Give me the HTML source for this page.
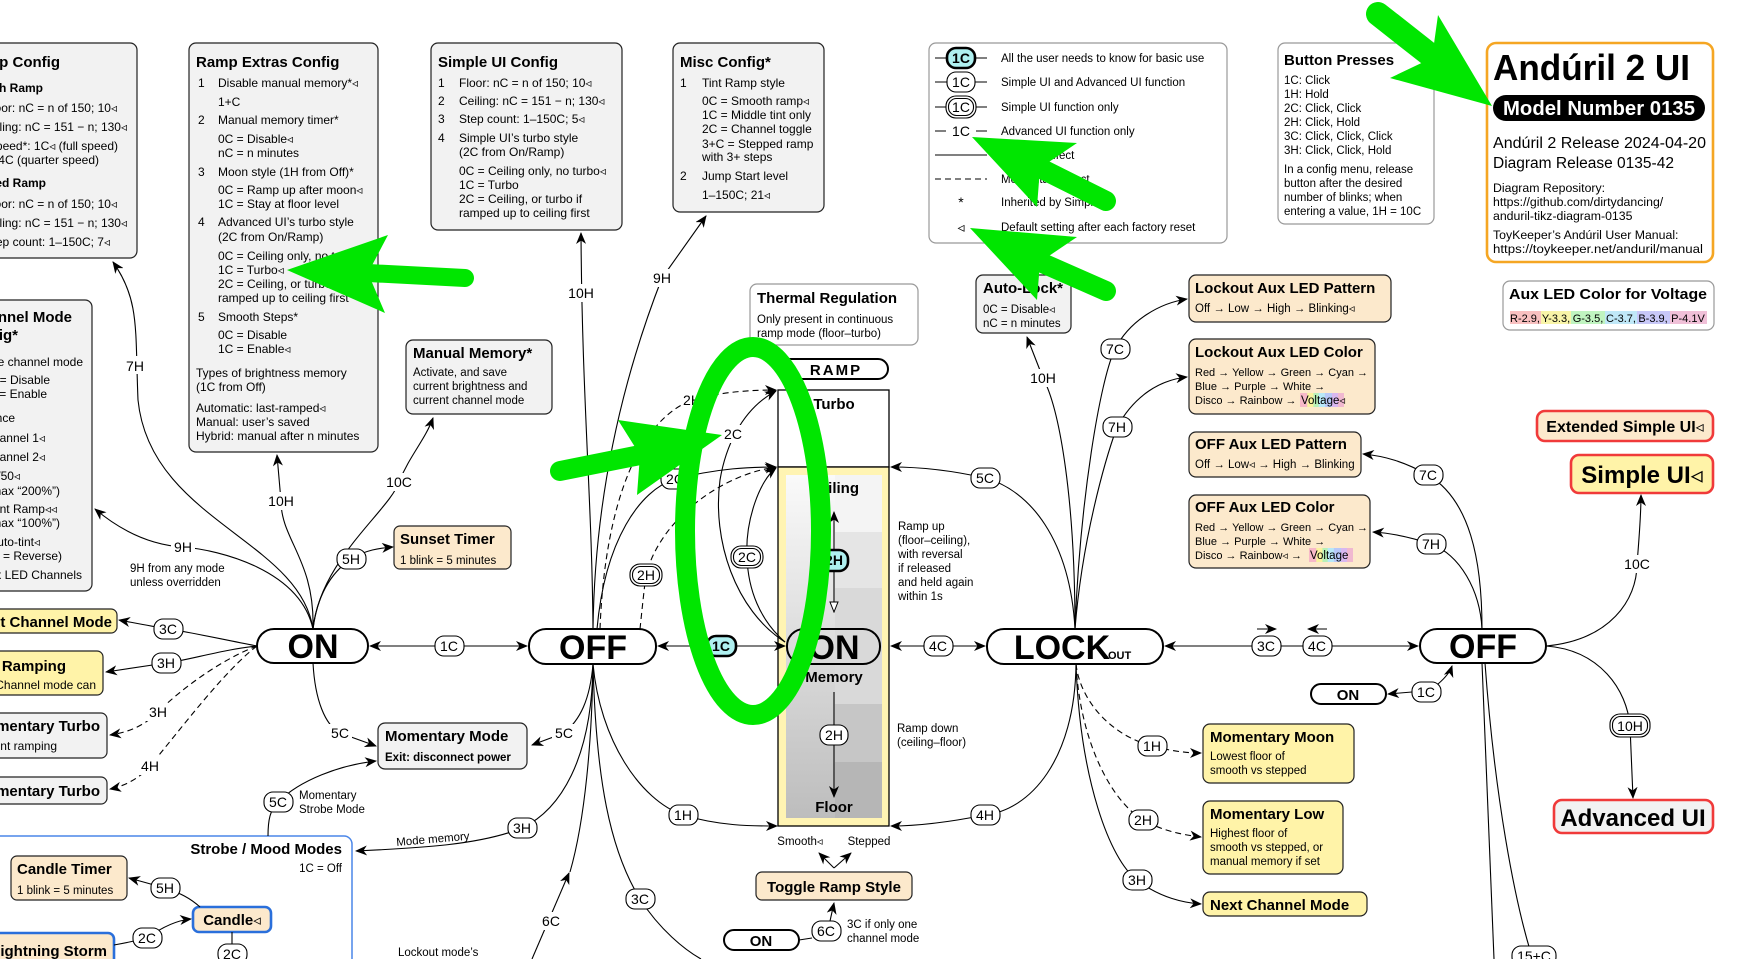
<!DOCTYPE html>
<html><head><meta charset="utf-8">
<style>
html,body{margin:0;padding:0;background:#fff;}
svg{display:block}
svg text{font-family:"Liberation Sans","DejaVu Sans",sans-serif;fill:#000}
.s{font-size:11.5px}
.c{font-size:12px}
.h{font-size:15px;font-weight:bold}
.lb{font-size:14px;text-anchor:middle}
.ln{fill:none;stroke:#000;stroke-width:1.1}
.d{stroke-dasharray:6 4}
.cfg{fill:#f2f2f2;stroke:#222;stroke-width:1.2}
.pe{fill:#fce9cc;stroke:#222;stroke-width:1.2}
.ye{fill:#fff3a8;stroke:#222;stroke-width:1.2}
.wb{fill:#fff;stroke:#999;stroke-width:1.2}
.pl{fill:#fff;stroke:#000;stroke-width:1.1}
.st{fill:#fff;stroke:#000;stroke-width:2}
.big{font-size:34px;font-weight:bold;text-anchor:middle}
.g{fill:#00e600}
.gs{stroke:#00e600;fill:none;stroke-linecap:round}
</style></head>
<body>
<svg width="1761" height="959" viewBox="0 0 1761 959" xmlns="http://www.w3.org/2000/svg">
<defs>
<marker id="a" viewBox="0 0 12 10" refX="11" refY="5" markerWidth="12" markerHeight="10" markerUnits="userSpaceOnUse" orient="auto-start-reverse"><path d="M0,0 L12,5 L0,10 L3.5,5 z" fill="#000"/></marker>
<marker id="o" viewBox="0 0 12 10" refX="11" refY="5" markerWidth="12" markerHeight="10" markerUnits="userSpaceOnUse" orient="auto"><path d="M1,1 L11,5 L1,9 z" fill="#fff" stroke="#000" stroke-width="1"/></marker>
<linearGradient id="rg" x1="0" y1="0" x2="0" y2="1"><stop offset="0" stop-color="#fafafa"/><stop offset="1" stop-color="#bdbdbd"/></linearGradient>
<linearGradient id="vg" x1="0" y1="0" x2="1" y2="0">
<stop offset="0" stop-color="#f7b8c8"/><stop offset=".16" stop-color="#f7b8c8"/><stop offset=".17" stop-color="#f9f3a0"/><stop offset=".3" stop-color="#f9f3a0"/><stop offset=".31" stop-color="#b8f0b8"/><stop offset=".42" stop-color="#b8f0b8"/><stop offset=".43" stop-color="#b8e8f8"/><stop offset=".56" stop-color="#b8e8f8"/><stop offset=".57" stop-color="#b8c8f8"/><stop offset=".72" stop-color="#b8c8f8"/><stop offset=".73" stop-color="#d8b8f0"/><stop offset=".86" stop-color="#d8b8f0"/><stop offset=".87" stop-color="#f0b8d0"/><stop offset="1" stop-color="#f0b8d0"/></linearGradient>
</defs>

<!-- ===== Config boxes top ===== -->
<rect class="cfg" x="-10" y="43" width="147" height="215" rx="7"/>
<text class="h" x="60" y="67" text-anchor="end" font-size="16">Ramp Config</text>
<g class="c" text-anchor="end">
<text x="43" y="92" font-weight="bold">Smooth Ramp</text>
<text x="117" y="112">Floor: nC = n of 150; 10◃</text>
<text x="127" y="131">Ceiling: nC = 151 − n; 130◃</text>
<text x="118" y="150">Speed*: 1C◃ (full speed)</text>
<text x="99" y="164">4C (quarter speed)</text>
<text x="46" y="187" font-weight="bold">Stepped Ramp</text>
<text x="117" y="208">Floor: nC = n of 150; 10◃</text>
<text x="127" y="227">Ceiling: nC = 151 − n; 130◃</text>
<text x="110" y="246">Step count: 1–150C; 7◃</text>
</g>

<rect class="cfg" x="189" y="43" width="189" height="409" rx="7"/>
<text class="h" x="196" y="67" font-size="16">Ramp Extras Config</text>
<g class="c">
<text x="198" y="87">1</text><text x="218" y="87">Disable manual memory*◃</text>
<text x="218" y="106">1+C</text>
<text x="198" y="124">2</text><text x="218" y="124">Manual memory timer*</text>
<text x="218" y="143">0C = Disable◃</text>
<text x="218" y="157">nC = n minutes</text>
<text x="198" y="176">3</text><text x="218" y="176">Moon style (1H from Off)*</text>
<text x="218" y="194">0C = Ramp up after moon◃</text>
<text x="218" y="208">1C = Stay at floor level</text>
<text x="198" y="226">4</text><text x="218" y="226">Advanced UI’s turbo style</text>
<text x="218" y="241">(2C from On/Ramp)</text>
<text x="218" y="260">0C = Ceiling only, no turbo</text>
<text x="218" y="274">1C = Turbo◃</text>
<text x="218" y="288">2C = Ceiling, or turbo if</text>
<text x="218" y="302">ramped up to ceiling first</text>
<text x="198" y="321">5</text><text x="218" y="321">Smooth Steps*</text>
<text x="218" y="339">0C = Disable</text>
<text x="218" y="353">1C = Enable◃</text>
<text x="196" y="377">Types of brightness memory</text>
<text x="196" y="391">(1C from Off)</text>
<text x="196" y="412">Automatic: last-ramped◃</text>
<text x="196" y="426">Manual: user’s saved</text>
<text x="196" y="440">Hybrid: manual after n minutes</text>
</g>

<rect class="cfg" x="431" y="43" width="191" height="187" rx="7"/>
<text class="h" x="438" y="67" font-size="16">Simple UI Config</text>
<g class="c">
<text x="438" y="87">1</text><text x="459" y="87">Floor: nC = n of 150; 10◃</text>
<text x="438" y="105">2</text><text x="459" y="105">Ceiling: nC = 151 − n; 130◃</text>
<text x="438" y="123">3</text><text x="459" y="123">Step count: 1–150C; 5◃</text>
<text x="438" y="142">4</text><text x="459" y="142">Simple UI’s turbo style</text>
<text x="459" y="156">(2C from On/Ramp)</text>
<text x="459" y="175">0C = Ceiling only, no turbo◃</text>
<text x="459" y="189">1C = Turbo</text>
<text x="459" y="203">2C = Ceiling, or turbo if</text>
<text x="459" y="217">ramped up to ceiling first</text>
</g>

<rect class="cfg" x="673" y="43" width="151" height="169" rx="7"/>
<text class="h" x="680" y="67" font-size="16">Misc Config*</text>
<g class="c">
<text x="680" y="87">1</text><text x="702" y="87">Tint Ramp style</text>
<text x="702" y="105">0C = Smooth ramp◃</text>
<text x="702" y="119">1C = Middle tint only</text>
<text x="702" y="133">2C = Channel toggle</text>
<text x="702" y="148">3+C = Stepped ramp</text>
<text x="702" y="161">with 3+ steps</text>
<text x="680" y="180">2</text><text x="702" y="180">Jump Start level</text>
<text x="702" y="199">1–150C; 21◃</text>
</g>

<!-- Legend -->
<rect class="wb" x="929" y="43" width="298" height="200" rx="7"/>
<g class="ln"><path d="M935,58H987M935,82H987M935,107H987M935,155H987"/><path d="M935,131H946M976,131H987"/><path class="d" d="M935,179H987"/></g>
<rect x="947" y="48" width="28" height="20" rx="9" fill="#aff0f0" stroke="#000" stroke-width="2.6"/>
<text class="lb" x="961" y="63" font-weight="bold" font-size="13">1C</text>
<rect class="pl" x="947" y="72" width="28" height="20" rx="9"/><text class="lb" x="961" y="87">1C</text>
<rect class="pl" x="946" y="96" width="30" height="22" rx="10"/><rect class="pl" x="948.5" y="98.5" width="25" height="17" rx="8"/><text class="lb" x="961" y="112">1C</text>
<text class="lb" x="961" y="136">1C</text>
<text class="lb" x="961" y="207">*</text>
<text class="lb" x="961" y="232">◃</text>
<g class="s">
<text x="1001" y="62">All the user needs to know for basic use</text>
<text x="1001" y="86">Simple UI and Advanced UI function</text>
<text x="1001" y="111">Simple UI function only</text>
<text x="1001" y="135">Advanced UI function only</text>
<text x="1001" y="159">Obvious effect</text>
<text x="1001" y="183">Momentary effect</text>
<text x="1001" y="206">Inherited by Simple UI</text>
<text x="1001" y="231">Default setting after each factory reset</text>
</g>

<!-- Button presses -->
<rect class="wb" x="1278" y="43" width="156" height="181" rx="7"/>
<text class="h" x="1284" y="65" font-size="16">Button Presses</text>
<g class="s">
<text x="1284" y="84">1C: Click</text>
<text x="1284" y="98">1H: Hold</text>
<text x="1284" y="112">2C: Click, Click</text>
<text x="1284" y="126">2H: Click, Hold</text>
<text x="1284" y="140">3C: Click, Click, Click</text>
<text x="1284" y="154">3H: Click, Click, Hold</text>
<text x="1284" y="173">In a config menu, release</text>
<text x="1284" y="187">button after the desired</text>
<text x="1284" y="201">number of blinks; when</text>
<text x="1284" y="215">entering a value, 1H = 10C</text>
</g>

<!-- Anduril box -->
<rect x="1487" y="43" width="226" height="219" rx="9" fill="#fff" stroke="#f5a623" stroke-width="2.6"/>
<text x="1493" y="80" font-size="36" font-weight="bold" textLength="197" lengthAdjust="spacingAndGlyphs">Andúril 2 UI</text>
<rect x="1493" y="95" width="212" height="26" rx="13" fill="#000"/>
<text x="1599" y="115" font-size="20" font-weight="bold" text-anchor="middle" style="fill:#fff" textLength="192" lengthAdjust="spacingAndGlyphs">Model Number 0135</text>
<text x="1493" y="148" font-size="15.5" textLength="213" lengthAdjust="spacingAndGlyphs">Andúril 2 Release 2024-04-20</text>
<text x="1493" y="168" font-size="15.5">Diagram Release 0135-42</text>
<g font-size="12.3">
<text x="1493" y="192">Diagram Repository:</text>
<text x="1493" y="206">https://github.com/dirtydancing/</text>
<text x="1493" y="220">anduril-tikz-diagram-0135</text>
<text x="1493" y="239">ToyKeeper’s Andúril User Manual:</text>
<text x="1493" y="253" textLength="210" lengthAdjust="spacingAndGlyphs">https://toykeeper.net/anduril/manual</text>
</g>

<!-- Aux LED voltage -->
<rect class="wb" x="1503" y="281" width="211" height="49" rx="7"/>
<text class="h" x="1509" y="299" font-size="16" textLength="198" lengthAdjust="spacingAndGlyphs">Aux LED Color for Voltage</text>
<rect x="1510" y="311" width="31" height="13" fill="#f8c0c0"/><rect x="1541" y="311" width="30" height="13" fill="#f8f4a8"/><rect x="1571" y="311" width="34" height="13" fill="#c0f4c0"/><rect x="1605" y="311" width="32" height="13" fill="#c0e8f8"/><rect x="1637" y="311" width="33" height="13" fill="#c8c8f8"/><rect x="1670" y="311" width="37" height="13" fill="#f0c0d8"/>
<g font-size="11" text-anchor="middle"><text x="1525" y="322">R-2.9,</text><text x="1556" y="322">Y-3.3,</text><text x="1588" y="322">G-3.5,</text><text x="1621" y="322">C-3.7,</text><text x="1653" y="322">B-3.9,</text><text x="1688" y="322">P-4.1V</text></g>

<!-- Simple / Advanced UI -->
<rect x="1537" y="411" width="176" height="30" rx="8" fill="#fce9cc" stroke="#f03a3a" stroke-width="2.6"/>
<text x="1625" y="432" font-size="16" font-weight="bold" text-anchor="middle">Extended Simple UI◃</text>
<rect x="1571" y="455" width="142" height="38" rx="8" fill="#fff3a8" stroke="#f03a3a" stroke-width="2.6"/>
<text x="1642" y="483" font-size="24" font-weight="bold" text-anchor="middle">Simple UI◃</text>
<rect x="1554" y="800" width="159" height="33" rx="8" fill="#f2f2f2" stroke="#f03a3a" stroke-width="2.6"/>
<text x="1633" y="826" font-size="24" font-weight="bold" text-anchor="middle">Advanced UI</text>

<!-- Left side boxes -->
<rect class="cfg" x="-10" y="300" width="102" height="291" rx="7"/>
<g text-anchor="end">
<text class="h" x="72" y="322" font-size="16">Channel Mode</text>
<text class="h" x="18" y="340" font-size="16">Config*</text>
<g class="c">
<text x="83" y="366">1  Manage channel mode</text>
<text x="50" y="384">0C = Disable</text>
<text x="47" y="398">1C = Enable</text>
<text x="15" y="422">Sequence</text>
<text x="45" y="442">Channel 1◃</text>
<text x="45" y="461">Channel 2◃</text>
<text x="20" y="480">/50◃</text>
<text x="60" y="495">(max “200%”)</text>
<text x="57" y="513">Tint Ramp◃◃</text>
<text x="60" y="527">(max “100%”)</text>
<text x="40" y="546">Auto-tint◃</text>
<text x="62" y="560">(1 = Reverse)</text>
<text x="82" y="579">Aux LED Channels</text>
</g></g>

<rect class="ye" x="-10" y="609" width="127" height="24" rx="6"/>
<text class="h" x="112" y="627" text-anchor="end" font-size="16">Next Channel Mode</text>
<rect class="ye" x="-10" y="651" width="113" height="44" rx="6"/>
<text class="h" x="66" y="671" text-anchor="end" font-size="16">Ramping</text>
<text class="c" x="96" y="689" text-anchor="end">Channel mode can</text>
<rect class="cfg" x="-10" y="713" width="117" height="45" rx="6"/>
<text class="h" x="100" y="731" text-anchor="end" font-size="16">Momentary Turbo</text>
<text class="c" x="57" y="750" text-anchor="end">Tint ramping</text>
<rect class="cfg" x="-10" y="777" width="117" height="27" rx="6"/>
<text class="h" x="100" y="796" text-anchor="end" font-size="16">Momentary Turbo</text>

<!-- Strobe box -->
<rect x="-10" y="836" width="362" height="140" rx="8" fill="#fff" stroke="#4a86e8" stroke-width="1.5"/>
<text class="h" x="342" y="854" text-anchor="end" font-size="16">Strobe / Mood Modes</text>
<text class="s" x="342" y="872" text-anchor="end">1C = Off</text>
<rect class="pe" x="11" y="856" width="116" height="44" rx="6"/>
<text class="h" x="17" y="874" font-size="16">Candle Timer</text>
<text class="s" x="17" y="894">1 blink = 5 minutes</text>
<rect x="193" y="907" width="78" height="25" rx="6" fill="#fce9cc" stroke="#2a6fdb" stroke-width="2.6"/>
<text class="h" x="232" y="925" text-anchor="middle" font-size="16">Candle◃</text>
<rect x="-10" y="933" width="124" height="40" rx="6" fill="#fce9cc" stroke="#2a6fdb" stroke-width="2.6"/>
<text class="h" x="107" y="956" text-anchor="end" font-size="16">Lightning Storm</text>

<!-- Middle boxes -->
<rect class="cfg" x="406" y="340" width="146" height="74" rx="7"/>
<text class="h" x="413" y="358" font-size="16">Manual Memory*</text>
<g class="s"><text x="413" y="376">Activate, and save</text><text x="413" y="390">current brightness and</text><text x="413" y="404">current channel mode</text></g>
<rect class="pe" x="394" y="526" width="117" height="43" rx="6"/>
<text class="h" x="400" y="544" font-size="16">Sunset Timer</text>
<text class="s" x="400" y="564">1 blink = 5 minutes</text>
<rect class="cfg" x="378" y="723" width="149" height="46" rx="7"/>
<text class="h" x="385" y="741" font-size="16">Momentary Mode</text>
<text x="385" y="761" font-size="11.5" font-weight="bold">Exit: disconnect power</text>
<rect class="wb" x="750" y="284" width="168" height="61" rx="7"/>
<text class="h" x="757" y="303" font-size="16">Thermal Regulation</text>
<g class="s"><text x="757" y="323">Only present in continuous</text><text x="757" y="337">ramp mode (floor–turbo)</text></g>

<!-- Ramp column -->
<rect x="780" y="359" width="108" height="20" rx="10" fill="#fff" stroke="#000" stroke-width="2"/>
<text x="836" y="375" font-size="15" font-weight="bold" text-anchor="middle" letter-spacing="2">RAMP</text>
<rect x="778" y="390" width="111" height="77" fill="#fff" stroke="#000" stroke-width="1.3"/>
<text class="h" x="834" y="409" text-anchor="middle" font-size="16">Turbo</text>
<rect x="778" y="467" width="111" height="359" fill="#fff4b3" stroke="#000" stroke-width="1.3"/>
<rect x="786" y="475" width="96" height="343" fill="url(#rg)"/>
<rect x="835" y="475" width="47" height="57" fill="#f4f4f4"/>
<rect x="835" y="532" width="47" height="56" fill="#e5e5e5"/>
<rect x="835" y="588" width="47" height="116" fill="#d9d9d9"/>
<rect x="835" y="704" width="47" height="58" fill="#c6c6c6"/>
<rect x="835" y="762" width="47" height="56" fill="#b6b6b6"/>
<text class="h" x="834" y="493" text-anchor="middle" font-size="16">Ceiling</text>
<path class="ln" d="M834,550V512" marker-end="url(#a)"/>
<path class="ln" d="M834,570V612" marker-end="url(#o)"/>
<rect x="820" y="550" width="28" height="21" rx="9" fill="#aff0f0" stroke="#000" stroke-width="2.6"/>
<text class="lb" x="834" y="565" font-weight="bold" font-size="13">2H</text>
<rect x="787" y="629" width="93" height="35" rx="17" fill="none" stroke="#000" stroke-width="2"/>
<text class="big" x="834" y="659">ON</text>
<text class="h" x="834" y="682" text-anchor="middle" font-size="16">Memory</text>
<path class="ln" d="M834,692V797" marker-end="url(#a)"/>
<rect class="pl" x="820" y="725" width="28" height="20" rx="9"/><text class="lb" x="834" y="740">2H</text>
<text class="h" x="834" y="812" text-anchor="middle" font-size="16">Floor</text>
<g class="s"><text x="898" y="530">Ramp up</text><text x="898" y="544">(floor–ceiling),</text><text x="898" y="558">with reversal</text><text x="898" y="572">if released</text><text x="898" y="586">and held again</text><text x="898" y="600">within 1s</text>
<text x="897" y="732">Ramp down</text><text x="897" y="746">(ceiling–floor)</text>
<text x="800" y="845" text-anchor="middle">Smooth◃</text><text x="869" y="845" text-anchor="middle">Stepped</text>
<text x="847" y="928">3C if only one</text><text x="847" y="942">channel mode</text></g>
<path class="ln" d="M834,868L851,853" marker-end="url(#a)"/>
<path class="ln" d="M834,868L819,853" marker-end="url(#a)"/>
<rect class="pe" x="756" y="872" width="156" height="28" rx="6"/>
<text class="h" x="834" y="892" text-anchor="middle" font-size="16">Toggle Ramp Style</text>
<rect x="724" y="930" width="75" height="20" rx="10" fill="#fff" stroke="#000" stroke-width="2"/>
<text class="h" x="761" y="946" text-anchor="middle">ON</text>
<path class="ln" d="M799,940L812,938"/>
<path class="ln" d="M830,921L834,903" marker-end="url(#a)"/>
<rect class="pl" x="812" y="921" width="29" height="20" rx="9"/><text class="lb" x="826" y="936">6C</text>

<!-- Right boxes -->
<rect class="cfg" x="976" y="275" width="95" height="58" rx="7"/>
<text class="h" x="983" y="293" font-size="16">Auto-Lock*</text>
<g class="s"><text x="983" y="313">0C = Disable◃</text><text x="983" y="327">nC = n minutes</text></g>
<rect class="pe" x="1189" y="275" width="202" height="47" rx="7"/>
<text class="h" x="1195" y="293" font-size="16">Lockout Aux LED Pattern</text>
<text class="s" x="1195" y="312">Off → Low → High → Blinking◃</text>
<rect class="pe" x="1189" y="339" width="186" height="75" rx="7"/>
<text class="h" x="1195" y="357" font-size="16">Lockout Aux LED Color</text>
<g font-size="11"><text x="1195" y="376">Red → Yellow → Green → Cyan →</text><text x="1195" y="390">Blue → Purple → White →</text><text x="1195" y="404">Disco → Rainbow →</text></g>
<rect x="1300" y="393" width="44" height="14" fill="url(#vg)"/><text class="s" x="1301" y="404">Voltage◃</text>
<rect class="pe" x="1189" y="432" width="172" height="45" rx="7"/>
<text class="h" x="1195" y="449" font-size="16">OFF Aux LED Pattern</text>
<text class="s" x="1195" y="468">Off → Low◃ → High → Blinking</text>
<rect class="pe" x="1189" y="495" width="181" height="73" rx="7"/>
<text class="h" x="1195" y="512" font-size="16">OFF Aux LED Color</text>
<g font-size="11"><text x="1195" y="531">Red → Yellow → Green → Cyan →</text><text x="1195" y="545">Blue → Purple → White →</text><text x="1195" y="559">Disco → Rainbow◃ →</text></g>
<rect x="1309" y="548" width="44" height="14" fill="url(#vg)"/><text class="s" x="1310" y="559">Voltage</text>

<rect class="ye" x="1203" y="724" width="151" height="59" rx="7"/>
<text class="h" x="1210" y="742" font-size="16">Momentary Moon</text>
<g class="s"><text x="1210" y="760">Lowest floor of</text><text x="1210" y="774">smooth vs stepped</text></g>
<rect class="ye" x="1203" y="801" width="140" height="73" rx="7"/>
<text class="h" x="1210" y="819" font-size="16">Momentary Low</text>
<g class="s"><text x="1210" y="837">Highest floor of</text><text x="1210" y="851">smooth vs stepped, or</text><text x="1210" y="865">manual memory if set</text></g>
<rect class="ye" x="1203" y="892" width="164" height="24" rx="7"/>
<text class="h" x="1210" y="910" font-size="16">Next Channel Mode</text>

<!-- ===== Connectors ===== -->
<g class="ln">
<path d="M370,646H527" marker-start="url(#a)" marker-end="url(#a)"/>
<path d="M658,646H785" marker-start="url(#a)" marker-end="url(#a)"/>
<path d="M891,646H985" marker-start="url(#a)" marker-end="url(#a)"/>
<path d="M1165,646H1418" marker-start="url(#a)" marker-end="url(#a)"/>
<path d="M1257,629H1276" marker-end="url(#a)"/>
<path d="M1327,629H1308" marker-end="url(#a)"/>
<path d="M313,629C300,540 150,520 138,400C135,330 140,300 113,262" marker-end="url(#a)"/>
<path d="M313,629C300,570 220,550 183,547C150,545 120,530 95,509" marker-end="url(#a)"/>
<path d="M313,629C315,560 281,540 281,501L277,455" marker-end="url(#a)"/>
<path d="M313,629C320,560 390,510 399,482C410,455 425,440 433,418" marker-end="url(#a)"/>
<path d="M313,629C318,590 335,570 351,559C365,550 380,548 393,547" marker-end="url(#a)"/>
<path d="M257,646C225,640 190,632 168,629C150,626 135,623 119,620" marker-end="url(#a)"/>
<path d="M257,646C220,650 190,660 166,663C145,666 125,669 106,672" marker-end="url(#a)"/>
<path class="d" d="M257,646C220,660 180,690 158,712C145,725 130,732 110,735" marker-end="url(#a)"/>
<path class="d" d="M257,646C225,670 180,730 150,766C140,778 125,786 110,789" marker-end="url(#a)"/>
<path d="M313,663C315,700 325,725 340,733L376,746" marker-end="url(#a)"/>
<path d="M268,836C268,820 270,810 278,802C300,780 340,765 376,761" marker-end="url(#a)"/>
<path d="M200,907C190,898 180,893 165,888L129,878" marker-end="url(#a)"/>
<path d="M114,945C125,943 135,941 147,938C165,925 180,920 191,919" marker-end="url(#a)"/>
<path d="M232,932V945"/>
<path d="M593,629C592,500 582,400 581,233" marker-end="url(#a)"/>
<path d="M593,629C595,480 630,360 662,278L706,216" marker-end="url(#a)"/>
<path class="d" d="M600,629C605,500 640,420 692,400C720,392 750,390 776,390" marker-end="url(#a)"/>
<path d="M597,629C605,540 640,490 675,479C720,468 750,467 776,467" marker-end="url(#a)"/>
<path class="d" d="M640,629C642,610 644,590 646,575C660,520 720,475 776,467" marker-end="url(#a)"/>
<path d="M785,642C735,610 712,540 720,480C725,450 740,410 776,391" marker-end="url(#a)"/>
<path d="M785,642C760,620 748,590 747,557C745,520 760,480 776,468" marker-end="url(#a)"/>
<path d="M593,664C590,700 580,720 564,733L532,745" marker-end="url(#a)"/>
<path d="M593,664C592,760 560,810 522,828C480,845 420,848 356,851" marker-end="url(#a)"/>
<path d="M532,959L569,873" marker-end="url(#a)"/>
<path d="M570,872C585,820 592,740 593,664"/>
<path d="M593,664C596,780 610,850 640,899C660,930 685,950 701,959"/>
<path d="M593,664C600,740 640,800 683,815C720,826 750,826 777,826" marker-end="url(#a)"/>
<path d="M1075,629C1070,540 1030,490 985,478C950,470 920,467 891,467" marker-end="url(#a)"/>
<path d="M1076,664C1075,760 1030,810 985,815C950,822 920,826 891,826" marker-end="url(#a)"/>
<path d="M1075,629C1075,500 1060,410 1043,378L1027,337" marker-end="url(#a)"/>
<path d="M1075,629C1080,500 1100,380 1115,349C1130,320 1160,303 1187,299" marker-end="url(#a)"/>
<path d="M1075,629C1082,540 1105,460 1117,427C1135,395 1160,380 1187,377" marker-end="url(#a)"/>
<path class="d" d="M1076,664C1080,700 1110,735 1152,746C1175,752 1190,753 1201,753" marker-end="url(#a)"/>
<path class="d" d="M1076,664C1080,740 1110,800 1143,820C1165,832 1185,835 1201,837" marker-end="url(#a)"/>
<path d="M1076,664C1080,780 1110,860 1137,880C1160,898 1185,903 1201,904" marker-end="url(#a)"/>
<path d="M1482,629C1482,560 1470,500 1428,475C1405,462 1385,456 1363,454" marker-end="url(#a)"/>
<path d="M1482,629C1480,590 1460,555 1431,544C1410,537 1390,533 1373,532" marker-end="url(#a)"/>
<path d="M1546,646C1610,640 1637,600 1637,564C1639,540 1641,515 1641,495" marker-end="url(#a)"/>
<path d="M1546,646C1600,650 1627,690 1630,726L1633,798" marker-end="url(#a)"/>
<path d="M1482,663L1494,959"/>
<path d="M1485,663C1495,800 1515,900 1530,950"/>
<path d="M1412,692L1388,694" marker-end="url(#a)"/>
<path d="M1438,684C1445,678 1450,672 1452,666" marker-end="url(#a)"/>
</g>

<!-- main state pills -->
<rect class="st" x="257" y="629" width="111" height="34" rx="17"/><text class="big" x="313" y="658">ON</text>
<rect class="st" x="529" y="629" width="127" height="35" rx="17"/><text class="big" x="593" y="659">OFF</text>
<rect class="st" x="987" y="629" width="176" height="35" rx="17"/><text x="1062" y="659" font-size="34" font-weight="bold" text-anchor="middle">LOCK</text><text x="1108" y="659" font-size="11" font-weight="bold">OUT</text>
<rect class="st" x="1420" y="629" width="126" height="34" rx="17"/><text class="big" x="1483" y="658">OFF</text>
<rect x="1311" y="684" width="75" height="20" rx="10" fill="#fff" stroke="#000" stroke-width="2"/><text class="h" x="1348" y="700" text-anchor="middle">ON</text>

<!-- pill labels -->
<g>
<rect class="pl" x="435" y="636" width="29" height="20" rx="9"/><text class="lb" x="449" y="651">1C</text>
<rect x="707" y="636" width="29" height="20" rx="9" fill="#aff0f0" stroke="#000" stroke-width="2.6"/><text class="lb" x="721" y="651" font-weight="bold" font-size="13">1C</text>
<rect class="pl" x="924" y="636" width="29" height="20" rx="9"/><text class="lb" x="938" y="651">4C</text>
<rect class="pl" x="1252" y="636" width="29" height="20" rx="9"/><text class="lb" x="1266" y="651">3C</text>
<rect class="pl" x="1303" y="636" width="29" height="20" rx="9"/><text class="lb" x="1317" y="651">4C</text>
<rect class="pl" x="1412" y="682" width="29" height="20" rx="9"/><text class="lb" x="1426" y="697">1C</text>
<rect class="pl" x="154" y="619" width="29" height="20" rx="9"/><text class="lb" x="168" y="634">3C</text>
<rect class="pl" x="152" y="653" width="29" height="20" rx="9"/><text class="lb" x="166" y="668">3H</text>
<rect class="pl" x="337" y="549" width="29" height="20" rx="9"/><text class="lb" x="351" y="564">5H</text>
<rect class="pl" x="264" y="792" width="29" height="20" rx="9"/><text class="lb" x="278" y="807">5C</text>
<rect class="pl" x="151" y="878" width="29" height="20" rx="9"/><text class="lb" x="165" y="893">5H</text>
<rect class="pl" x="133" y="928" width="29" height="20" rx="9"/><text class="lb" x="147" y="943">2C</text>
<rect class="pl" x="218" y="944" width="29" height="20" rx="9"/><text class="lb" x="232" y="959">2C</text>
<rect class="pl" x="661" y="469" width="29" height="20" rx="9"/><text class="lb" x="675" y="484">2C</text>
<rect class="pl" x="731" y="546" width="32" height="22" rx="10"/><rect class="pl" x="733.5" y="548.5" width="27" height="17" rx="8"/><text class="lb" x="747" y="562">2C</text>
<rect class="pl" x="630" y="564" width="32" height="22" rx="10"/><rect class="pl" x="632.5" y="566.5" width="27" height="17" rx="8"/><text class="lb" x="646" y="580">2H</text>
<rect class="pl" x="508" y="818" width="29" height="20" rx="9"/><text class="lb" x="522" y="833">3H</text>
<rect class="pl" x="626" y="889" width="29" height="20" rx="9"/><text class="lb" x="640" y="904">3C</text>
<rect class="pl" x="669" y="805" width="29" height="20" rx="9"/><text class="lb" x="683" y="820">1H</text>
<rect class="pl" x="971" y="468" width="29" height="20" rx="9"/><text class="lb" x="985" y="483">5C</text>
<rect class="pl" x="971" y="805" width="29" height="20" rx="9"/><text class="lb" x="985" y="820">4H</text>
<rect class="pl" x="1101" y="339" width="29" height="20" rx="9"/><text class="lb" x="1115" y="354">7C</text>
<rect class="pl" x="1103" y="417" width="29" height="20" rx="9"/><text class="lb" x="1117" y="432">7H</text>
<rect class="pl" x="1138" y="736" width="29" height="20" rx="9"/><text class="lb" x="1152" y="751">1H</text>
<rect class="pl" x="1129" y="810" width="29" height="20" rx="9"/><text class="lb" x="1143" y="825">2H</text>
<rect class="pl" x="1123" y="870" width="29" height="20" rx="9"/><text class="lb" x="1137" y="885">3H</text>
<rect class="pl" x="1414" y="465" width="29" height="20" rx="9"/><text class="lb" x="1428" y="480">7C</text>
<rect class="pl" x="1417" y="534" width="29" height="20" rx="9"/><text class="lb" x="1431" y="549">7H</text>
<rect class="pl" x="1610" y="714" width="40" height="23" rx="10"/><rect class="pl" x="1612.5" y="716.5" width="35" height="18" rx="8"/><text class="lb" x="1630" y="731" font-size="13">10H</text>
<rect class="pl" x="1512" y="946" width="44" height="20" rx="9"/><text class="lb" x="1534" y="961" font-size="13">15+C</text>
</g>
<!-- plain labels -->
<g>
<rect x="125" y="356" width="22" height="18" fill="#fff"/><text class="lb" x="135" y="371">7H</text>
<rect x="171" y="538" width="24" height="18" fill="#fff"/><text class="lb" x="183" y="552">9H</text>
<rect x="266" y="492" width="31" height="18" fill="#fff"/><text class="lb" x="281" y="506">10H</text>
<rect x="384" y="473" width="31" height="18" fill="#fff"/><text class="lb" x="399" y="487">10C</text>
<rect x="146" y="703" width="24" height="18" fill="#fff"/><text class="lb" x="158" y="717">3H</text>
<rect x="138" y="757" width="24" height="18" fill="#fff"/><text class="lb" x="150" y="771">4H</text>
<rect x="328" y="724" width="24" height="18" fill="#fff"/><text class="lb" x="340" y="738">5C</text>
<rect x="566" y="284" width="31" height="18" fill="#fff"/><text class="lb" x="581" y="298">10H</text>
<rect x="651" y="269" width="24" height="18" fill="#fff"/><text class="lb" x="662" y="283">9H</text>
<rect x="681" y="391" width="24" height="18" fill="#fff"/><text class="lb" x="692" y="405">2H</text>
<rect x="721" y="425" width="24" height="18" fill="#fff"/><text class="lb" x="733" y="439">2C</text>
<rect x="552" y="724" width="24" height="18" fill="#fff"/><text class="lb" x="564" y="738">5C</text>
<rect x="540" y="912" width="24" height="18" fill="#fff"/><text class="lb" x="551" y="926">6C</text>
<rect x="1028" y="369" width="31" height="18" fill="#fff"/><text class="lb" x="1043" y="383">10H</text>
<rect x="1622" y="555" width="31" height="18" fill="#fff"/><text class="lb" x="1637" y="569">10C</text>
</g>
<g class="s">
<text x="130" y="572">9H from any mode</text><text x="130" y="586">unless overridden</text>
<text x="299" y="799">Momentary</text><text x="299" y="813">Strobe Mode</text>
<text x="396" y="843" transform="rotate(-5 431 838)">Mode memory</text>
<text x="398" y="956">Lockout mode’s</text>
</g>

<!-- ===== Green overlays ===== -->
<g>
<line class="gs" x1="1378" y1="14" x2="1434" y2="58" stroke-width="24"/>
<polygon class="g" points="1492,106 1438,15 1432,58 1390,78"/>
<line class="gs" x1="368" y1="273" x2="465" y2="278" stroke-width="18"/>
<polygon class="g" points="287,270 388,235 368,273 385,313"/>
<line class="gs" x1="1040" y1="168" x2="1106" y2="201" stroke-width="20"/>
<polygon class="g" points="972,137 1077,143 1040,168 1037,207"/>
<line class="gs" x1="1040" y1="262" x2="1106" y2="291" stroke-width="20"/>
<polygon class="g" points="970,228 1077,237 1040,262 1037,300"/>
<line class="gs" x1="640" y1="455" x2="560" y2="471" stroke-width="20"/>
<polygon class="g" points="722,435 618,420 640,455 637,495"/>
<ellipse cx="753" cy="531" rx="68" ry="184" fill="none" stroke="#00e600" stroke-width="20"/>
</g>
</svg>
</body></html>
